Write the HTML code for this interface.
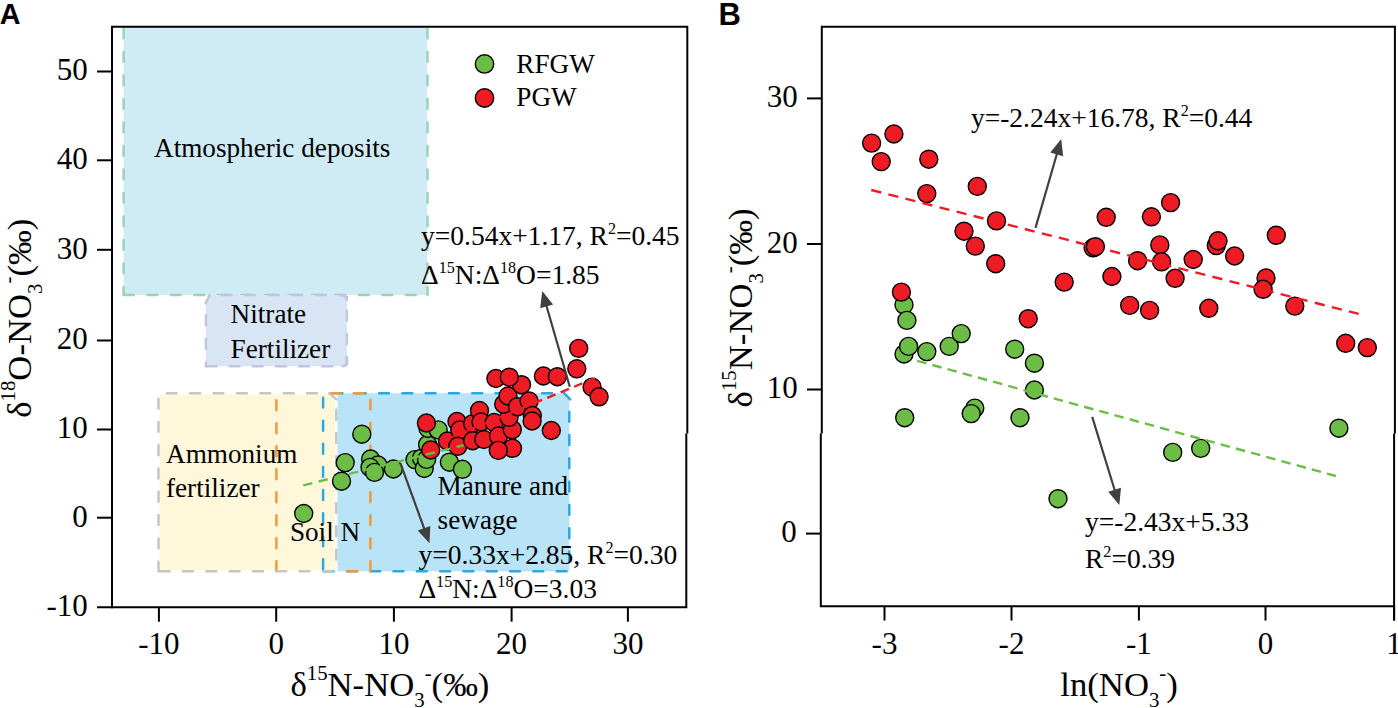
<!DOCTYPE html>
<html><head><meta charset="utf-8"><title>figure</title>
<style>html,body{margin:0;padding:0;background:#fff;overflow:hidden}svg{display:block}text{fill:#000}</style>
</head><body>
<svg width="1398" height="708" viewBox="0 0 1398 708">
<rect width="1398" height="708" fill="#fff"/>
<rect x="123.6" y="26" width="303.6" height="268.9" fill="#cfebf5"/>
<line x1="123.6" y1="26.8" x2="123.6" y2="294.9" stroke="#9cd3b3" stroke-width="2.5" stroke-dasharray="9.90 13.60" stroke-dashoffset="21.85" stroke-linecap="round"/>
<line x1="427.5" y1="26.8" x2="427.5" y2="294.9" stroke="#9cd3b3" stroke-width="2.5" stroke-dasharray="9.90 13.60" stroke-dashoffset="21.85" stroke-linecap="round"/>
<line x1="123.6" y1="294.9" x2="427.5" y2="294.9" stroke="#9cd3b3" stroke-width="2.5" stroke-dasharray="9.90 13.60" stroke-dashoffset="23.25" stroke-linecap="round"/>
<path d="M209.5,295.1 H344 Q346.9,295.1 346.9,298 V363.4 Q346.9,366.3 344,366.3 H205.9 V303.4 Z" fill="#d8e5f5"/>
<line x1="209.5" y1="295.1" x2="344.5" y2="295.1" stroke="#c6c3e0" stroke-width="2.5" stroke-dasharray="9.90 13.70" stroke-dashoffset="11.65" stroke-linecap="round"/>
<line x1="209.5" y1="295.4" x2="205.6" y2="303.4" stroke="#c6c3e0" stroke-width="2.5" stroke-linecap="round"/>
<line x1="205.9" y1="303.4" x2="205.9" y2="366.3" stroke="#c6c3e0" stroke-width="2.5" stroke-dasharray="9.90 13.70" stroke-dashoffset="11.65" stroke-linecap="round"/>
<line x1="205.9" y1="366.3" x2="344.5" y2="366.3" stroke="#c6c3e0" stroke-width="2.5" stroke-dasharray="9.90 13.25" stroke-dashoffset="22.50" stroke-linecap="round"/>
<line x1="346.9" y1="297" x2="346.9" y2="364.5" stroke="#c6c3e0" stroke-width="2.5" stroke-dasharray="9.90 13.25" stroke-dashoffset="9.50" stroke-linecap="round"/>
<path d="M340,295.1 Q346.9,295.1 346.9,300" fill="none" stroke="#c6c3e0" stroke-width="2.5" stroke-linecap="round"/>
<path d="M346.9,357 V362 Q346.9,366.3 342.5,366.3" fill="none" stroke="#c6c3e0" stroke-width="2.5" stroke-linecap="round"/>
<path d="M337.5,393.3 H564.5 L569.3,399 V571.3 H337.5 Z" fill="#b9e4f7"/>
<path d="M159.6,394.5 H328.6 L335.3,399.5 V570.5 H159.6 Z" fill="#fef7da"/>
<line x1="323.1" y1="393.3" x2="323.1" y2="571.3" stroke="#2aa8e0" stroke-width="2.5" stroke-dasharray="9.90 13.20" stroke-dashoffset="18.75" stroke-linecap="round"/>
<line x1="329" y1="393.2" x2="565" y2="393.2" stroke="#2aa8e0" stroke-width="2.5" stroke-dasharray="9.90 13.40" stroke-dashoffset="19.85" stroke-linecap="round"/>
<line x1="563.6" y1="392.6" x2="570.2" y2="399.4" stroke="#2aa8e0" stroke-width="2.5" stroke-linecap="round"/>
<line x1="569.3" y1="399" x2="569.3" y2="569" stroke="#2aa8e0" stroke-width="2.5" stroke-dasharray="9.90 13.40" stroke-dashoffset="10.55" stroke-linecap="round"/>
<line x1="323.1" y1="571.3" x2="569.3" y2="571.3" stroke="#2aa8e0" stroke-width="2.5" stroke-dasharray="9.90 13.40" stroke-dashoffset="22.75" stroke-linecap="round"/>
<line x1="276.4" y1="393.3" x2="276.4" y2="571.3" stroke="#f4983a" stroke-width="2.5" stroke-dasharray="9.90 13.10" stroke-dashoffset="16.05" stroke-linecap="round"/>
<line x1="370.4" y1="393.3" x2="370.4" y2="571.3" stroke="#f4983a" stroke-width="2.5" stroke-dasharray="9.90 13.20" stroke-dashoffset="16.75" stroke-linecap="round"/>
<line x1="328.5" y1="393.3" x2="370.4" y2="393.3" stroke="#f4983a" stroke-width="2.5" stroke-dasharray="9.90 13.10" stroke-dashoffset="20.75" stroke-linecap="round"/>
<line x1="337" y1="571.3" x2="370.4" y2="571.3" stroke="#f4983a" stroke-width="2.5" stroke-dasharray="9.90 13.40" stroke-dashoffset="12.85" stroke-linecap="round"/>
<line x1="158.5" y1="393.3" x2="329" y2="393.3" stroke="#c5c5c5" stroke-width="2.5" stroke-dasharray="9.90 13.50" stroke-dashoffset="15.15" stroke-linecap="round"/>
<line x1="329.2" y1="393.4" x2="336.4" y2="399.2" stroke="#c5c5c5" stroke-width="2.5" stroke-linecap="round"/>
<line x1="158.5" y1="393.3" x2="158.5" y2="571.3" stroke="#c5c5c5" stroke-width="2.5" stroke-dasharray="9.90 13.40" stroke-dashoffset="17.95" stroke-linecap="round"/>
<line x1="158.5" y1="571.3" x2="336.3" y2="571.3" stroke="#c5c5c5" stroke-width="2.5" stroke-dasharray="9.90 13.40" stroke-dashoffset="22.05" stroke-linecap="round"/>
<line x1="336.3" y1="399" x2="336.3" y2="571.3" stroke="#c5c5c5" stroke-width="2.5" stroke-dasharray="9.90 13.40" stroke-dashoffset="12.55" stroke-linecap="round"/>
<path d="M112,608.3 V26.8 H687.3 V433.6" fill="none" stroke="#000" stroke-width="2"/>
<path d="M686.3,433.4 V607.3 H97" fill="none" stroke="#000" stroke-width="2"/>
<line x1="97" y1="71.5" x2="112" y2="71.5" stroke="#000" stroke-width="2" />
<text x="87.8" y="80.3" font-size="31" text-anchor="end" font-family='"Liberation Serif", serif' >50</text>
<line x1="97" y1="160.3" x2="112" y2="160.3" stroke="#000" stroke-width="2" />
<text x="87.8" y="169.10000000000002" font-size="31" text-anchor="end" font-family='"Liberation Serif", serif' >40</text>
<line x1="97" y1="249.8" x2="112" y2="249.8" stroke="#000" stroke-width="2" />
<text x="87.8" y="258.6" font-size="31" text-anchor="end" font-family='"Liberation Serif", serif' >30</text>
<line x1="97" y1="340.5" x2="112" y2="340.5" stroke="#000" stroke-width="2" />
<text x="87.8" y="349.3" font-size="31" text-anchor="end" font-family='"Liberation Serif", serif' >20</text>
<line x1="97" y1="429.5" x2="112" y2="429.5" stroke="#000" stroke-width="2" />
<text x="87.8" y="438.3" font-size="31" text-anchor="end" font-family='"Liberation Serif", serif' >10</text>
<line x1="97" y1="517.7" x2="112" y2="517.7" stroke="#000" stroke-width="2" />
<text x="87.8" y="526.5" font-size="31" text-anchor="end" font-family='"Liberation Serif", serif' >0</text>
<text x="87.8" y="616.0999999999999" font-size="31" text-anchor="end" font-family='"Liberation Serif", serif' >-10</text>
<line x1="158.9" y1="607.3" x2="158.9" y2="621.7" stroke="#000" stroke-width="2" />
<text x="158.9" y="654.3" font-size="31" text-anchor="middle" font-family='"Liberation Serif", serif' >-10</text>
<line x1="276.2" y1="607.3" x2="276.2" y2="621.7" stroke="#000" stroke-width="2" />
<text x="276.2" y="654.3" font-size="31" text-anchor="middle" font-family='"Liberation Serif", serif' >0</text>
<line x1="393.9" y1="607.3" x2="393.9" y2="621.7" stroke="#000" stroke-width="2" />
<text x="393.9" y="654.3" font-size="31" text-anchor="middle" font-family='"Liberation Serif", serif' >10</text>
<line x1="511.6" y1="607.3" x2="511.6" y2="621.7" stroke="#000" stroke-width="2" />
<text x="511.6" y="654.3" font-size="31" text-anchor="middle" font-family='"Liberation Serif", serif' >20</text>
<line x1="627.9" y1="607.3" x2="627.9" y2="621.7" stroke="#000" stroke-width="2" />
<text x="627.9" y="654.3" font-size="31" text-anchor="middle" font-family='"Liberation Serif", serif' >30</text>
<text x="154.0" y="157.1" font-size="27.2" text-anchor="start" font-family='"Liberation Serif", serif' >Atmospheric deposits</text>
<text x="230.6" y="323.1" font-size="27.2" text-anchor="start" font-family='"Liberation Serif", serif' >Nitrate</text>
<text x="230.6" y="357.7" font-size="27.2" text-anchor="start" font-family='"Liberation Serif", serif' >Fertilizer</text>
<text x="166" y="463.1" font-size="27.2" text-anchor="start" font-family='"Liberation Serif", serif' >Ammonium</text>
<text x="166" y="497" font-size="27.2" text-anchor="start" font-family='"Liberation Serif", serif' >fertilizer</text>
<text x="289.9" y="541.1" font-size="27.2" text-anchor="start" font-family='"Liberation Serif", serif' >Soil N</text>
<text x="437.6" y="495.1" font-size="27.2" text-anchor="start" font-family='"Liberation Serif", serif' >Manure and</text>
<text x="437.6" y="529.2" font-size="27.2" text-anchor="start" font-family='"Liberation Serif", serif' >sewage</text>
<circle cx="303.7" cy="513.5" r="9.0" fill="#6bbd45" stroke="#000" stroke-width="1.4"/>
<circle cx="345.2" cy="462.6" r="9.0" fill="#6bbd45" stroke="#000" stroke-width="1.4"/>
<circle cx="341.5" cy="481.2" r="9.0" fill="#6bbd45" stroke="#000" stroke-width="1.4"/>
<circle cx="361.8" cy="434.2" r="9.0" fill="#6bbd45" stroke="#000" stroke-width="1.4"/>
<circle cx="370.6" cy="459.0" r="9.0" fill="#6bbd45" stroke="#000" stroke-width="1.4"/>
<circle cx="378.0" cy="465.0" r="9.0" fill="#6bbd45" stroke="#000" stroke-width="1.4"/>
<circle cx="370.0" cy="467.4" r="9.0" fill="#6bbd45" stroke="#000" stroke-width="1.4"/>
<circle cx="374.5" cy="472.4" r="9.0" fill="#6bbd45" stroke="#000" stroke-width="1.4"/>
<circle cx="393.4" cy="469.0" r="9.0" fill="#6bbd45" stroke="#000" stroke-width="1.4"/>
<circle cx="415.0" cy="459.6" r="9.0" fill="#6bbd45" stroke="#000" stroke-width="1.4"/>
<circle cx="421.5" cy="458.2" r="9.0" fill="#6bbd45" stroke="#000" stroke-width="1.4"/>
<circle cx="424.2" cy="468.5" r="9.0" fill="#6bbd45" stroke="#000" stroke-width="1.4"/>
<circle cx="426.6" cy="459.4" r="9.0" fill="#6bbd45" stroke="#000" stroke-width="1.4"/>
<circle cx="427.6" cy="444.5" r="9.0" fill="#6bbd45" stroke="#000" stroke-width="1.4"/>
<circle cx="428.0" cy="428.5" r="9.0" fill="#6bbd45" stroke="#000" stroke-width="1.4"/>
<circle cx="438.2" cy="429.9" r="9.0" fill="#6bbd45" stroke="#000" stroke-width="1.4"/>
<circle cx="449.4" cy="462.2" r="9.0" fill="#6bbd45" stroke="#000" stroke-width="1.4"/>
<circle cx="462.4" cy="469.3" r="9.0" fill="#6bbd45" stroke="#000" stroke-width="1.4"/>
<circle cx="426.4" cy="423.0" r="9.0" fill="#ed1c24" stroke="#000" stroke-width="1.4"/>
<circle cx="430.7" cy="450.0" r="9.0" fill="#ed1c24" stroke="#000" stroke-width="1.4"/>
<circle cx="447.5" cy="441.0" r="9.0" fill="#ed1c24" stroke="#000" stroke-width="1.4"/>
<circle cx="457.0" cy="421.5" r="9.0" fill="#ed1c24" stroke="#000" stroke-width="1.4"/>
<circle cx="459.8" cy="430.0" r="9.0" fill="#ed1c24" stroke="#000" stroke-width="1.4"/>
<circle cx="457.8" cy="446.3" r="9.0" fill="#ed1c24" stroke="#000" stroke-width="1.4"/>
<circle cx="472.7" cy="423.7" r="9.0" fill="#ed1c24" stroke="#000" stroke-width="1.4"/>
<circle cx="472.7" cy="440.7" r="9.0" fill="#ed1c24" stroke="#000" stroke-width="1.4"/>
<circle cx="483.8" cy="439.5" r="9.0" fill="#ed1c24" stroke="#000" stroke-width="1.4"/>
<circle cx="479.5" cy="410.5" r="9.0" fill="#ed1c24" stroke="#000" stroke-width="1.4"/>
<circle cx="481.0" cy="422.0" r="9.0" fill="#ed1c24" stroke="#000" stroke-width="1.4"/>
<circle cx="494.1" cy="422.5" r="9.0" fill="#ed1c24" stroke="#000" stroke-width="1.4"/>
<circle cx="498.5" cy="436.0" r="9.0" fill="#ed1c24" stroke="#000" stroke-width="1.4"/>
<circle cx="512.5" cy="448.3" r="9.0" fill="#ed1c24" stroke="#000" stroke-width="1.4"/>
<circle cx="498.3" cy="450.4" r="9.0" fill="#ed1c24" stroke="#000" stroke-width="1.4"/>
<circle cx="512.3" cy="429.7" r="9.0" fill="#ed1c24" stroke="#000" stroke-width="1.4"/>
<circle cx="509.0" cy="417.3" r="9.0" fill="#ed1c24" stroke="#000" stroke-width="1.4"/>
<circle cx="503.7" cy="404.1" r="9.0" fill="#ed1c24" stroke="#000" stroke-width="1.4"/>
<circle cx="508.0" cy="396.0" r="9.0" fill="#ed1c24" stroke="#000" stroke-width="1.4"/>
<circle cx="517.5" cy="406.7" r="9.0" fill="#ed1c24" stroke="#000" stroke-width="1.4"/>
<circle cx="529.1" cy="401.0" r="9.0" fill="#ed1c24" stroke="#000" stroke-width="1.4"/>
<circle cx="532.3" cy="415.5" r="9.0" fill="#ed1c24" stroke="#000" stroke-width="1.4"/>
<circle cx="532.1" cy="421.0" r="9.0" fill="#ed1c24" stroke="#000" stroke-width="1.4"/>
<circle cx="495.9" cy="378.5" r="9.0" fill="#ed1c24" stroke="#000" stroke-width="1.4"/>
<circle cx="521.5" cy="384.7" r="9.0" fill="#ed1c24" stroke="#000" stroke-width="1.4"/>
<circle cx="509.3" cy="377.2" r="9.0" fill="#ed1c24" stroke="#000" stroke-width="1.4"/>
<circle cx="543.4" cy="376.0" r="9.0" fill="#ed1c24" stroke="#000" stroke-width="1.4"/>
<circle cx="557.4" cy="376.7" r="9.0" fill="#ed1c24" stroke="#000" stroke-width="1.4"/>
<circle cx="578.7" cy="348.4" r="9.0" fill="#ed1c24" stroke="#000" stroke-width="1.4"/>
<circle cx="576.8" cy="368.8" r="9.0" fill="#ed1c24" stroke="#000" stroke-width="1.4"/>
<circle cx="592.1" cy="387.2" r="9.0" fill="#ed1c24" stroke="#000" stroke-width="1.4"/>
<circle cx="599.1" cy="396.8" r="9.0" fill="#ed1c24" stroke="#000" stroke-width="1.4"/>
<circle cx="551.3" cy="430.5" r="9.0" fill="#ed1c24" stroke="#000" stroke-width="1.4"/>
<line x1="303.3" y1="485.3746875" x2="463.50" y2="445.22" stroke="#6bbd45" stroke-width="2.4" stroke-dasharray="9.3 6.5" stroke-dashoffset="0.00"/>
<line x1="426" y1="447.56312" x2="595.00" y2="378.14" stroke="#ed1c24" stroke-width="2.4" stroke-dasharray="9.0 5.5" stroke-dashoffset="13.97"/>
<line x1="400.5" y1="463.4" x2="424.7182450518007" y2="530.041929487369" stroke="#404040" stroke-width="2.2" />
<polygon points="429.5,543.2 417.7,530.5 430.3,525.9" fill="#404040"/>
<line x1="569.8" y1="386.8" x2="546.0757614026523" y2="304.452823999061" stroke="#404040" stroke-width="2.2" />
<polygon points="542.2,291.0 553.1,304.5 540.2,308.2" fill="#404040"/>
<text x="421" y="245.4" font-size="27.5" text-anchor="start" font-family='"Liberation Serif", serif' ><tspan>y=0.54x+1.17, R</tspan><tspan font-size="16.1" baseline-shift="11.3">2</tspan><tspan>=0.45</tspan></text>
<text x="421" y="284.1" font-size="27.5" text-anchor="start" font-family='"Liberation Serif", serif' ><tspan>&#916;</tspan><tspan font-size="16.1" baseline-shift="11.3">15</tspan><tspan>N:&#916;</tspan><tspan font-size="16.1" baseline-shift="11.3">18</tspan><tspan>O=1.85</tspan></text>
<text x="418.6" y="564" font-size="27.5" text-anchor="start" font-family='"Liberation Serif", serif' ><tspan>y=0.33x+2.85, R</tspan><tspan font-size="16.1" baseline-shift="11.3">2</tspan><tspan>=0.30</tspan></text>
<text x="418.4" y="597.5" font-size="27.5" text-anchor="start" font-family='"Liberation Serif", serif' ><tspan>&#916;</tspan><tspan font-size="16.1" baseline-shift="11.3">15</tspan><tspan>N:&#916;</tspan><tspan font-size="16.1" baseline-shift="11.3">18</tspan><tspan>O=3.03</tspan></text>
<circle cx="484.5" cy="63.9" r="9.2" fill="#6bbd45" stroke="#000" stroke-width="1.4"/>
<circle cx="484.5" cy="98.0" r="9.2" fill="#ed1c24" stroke="#000" stroke-width="1.4"/>
<text x="516.3" y="72.6" font-size="27.2" text-anchor="start" font-family='"Liberation Serif", serif' >RFGW</text>
<text x="516.3" y="106.4" font-size="27.2" text-anchor="start" font-family='"Liberation Serif", serif' >PGW</text>
<text x="290.4" y="696.2" font-size="34.7" text-anchor="start" font-family='"Liberation Serif", serif' ><tspan>&#948;</tspan><tspan font-size="20.8" baseline-shift="16.3">15</tspan><tspan>N-NO</tspan><tspan font-size="20.8" baseline-shift="-10.8">3</tspan><tspan font-size="20.8" baseline-shift="16.3">-</tspan><tspan>(&#8240;)</tspan></text>
<text x="0" y="0" font-size="34.7" text-anchor="start" font-family='"Liberation Serif", serif' transform="translate(31.4,417.8) rotate(-90)"><tspan>&#948;</tspan><tspan font-size="20.8" baseline-shift="16.3">18</tspan><tspan>O-NO</tspan><tspan font-size="20.8" baseline-shift="-10.8">3</tspan><tspan font-size="20.8" baseline-shift="16.3">-</tspan><tspan>(&#8240;)</tspan></text>
<text x="-0.3" y="23.7" font-size="28.8" text-anchor="start" font-family='"Liberation Sans", sans-serif' font-weight="bold">A</text>
<text x="718.5" y="24.5" font-size="31" text-anchor="start" font-family='"Liberation Sans", sans-serif' font-weight="bold">B</text>
<path d="M821.8,433.6 V26.7 H1394.9 V433.6" fill="none" stroke="#000" stroke-width="2"/>
<path d="M820.8,433.4 V606.3 H1394.1 V433.4" fill="none" stroke="#000" stroke-width="2"/>
<line x1="1394.1" y1="606" x2="1394.1" y2="620.5" stroke="#000" stroke-width="2" />
<line x1="807" y1="98.4" x2="821.8" y2="98.4" stroke="#000" stroke-width="2" />
<text x="797.7" y="107.2" font-size="31" text-anchor="end" font-family='"Liberation Serif", serif' >30</text>
<line x1="807" y1="244" x2="821.8" y2="244" stroke="#000" stroke-width="2" />
<text x="797.7" y="252.8" font-size="31" text-anchor="end" font-family='"Liberation Serif", serif' >20</text>
<line x1="807" y1="389.5" x2="821.8" y2="389.5" stroke="#000" stroke-width="2" />
<text x="797.7" y="398.3" font-size="31" text-anchor="end" font-family='"Liberation Serif", serif' >10</text>
<line x1="806" y1="533.6" x2="820.8" y2="533.6" stroke="#000" stroke-width="2" />
<text x="796.7" y="542.4" font-size="31" text-anchor="end" font-family='"Liberation Serif", serif' >0</text>
<line x1="884.5" y1="606.3" x2="884.5" y2="620.5" stroke="#000" stroke-width="2" />
<text x="884.5" y="653.5" font-size="31" text-anchor="middle" font-family='"Liberation Serif", serif' >-3</text>
<line x1="1011.5" y1="606.3" x2="1011.5" y2="620.5" stroke="#000" stroke-width="2" />
<text x="1011.5" y="653.5" font-size="31" text-anchor="middle" font-family='"Liberation Serif", serif' >-2</text>
<line x1="1138.9" y1="606.3" x2="1138.9" y2="620.5" stroke="#000" stroke-width="2" />
<text x="1138.9" y="653.5" font-size="31" text-anchor="middle" font-family='"Liberation Serif", serif' >-1</text>
<line x1="1265.5" y1="606.3" x2="1265.5" y2="620.5" stroke="#000" stroke-width="2" />
<text x="1265.5" y="653.5" font-size="31" text-anchor="middle" font-family='"Liberation Serif", serif' >0</text>
<line x1="1394.1" y1="606.3" x2="1394.1" y2="620.5" stroke="#000" stroke-width="2" />
<text x="1394.1" y="653.5" font-size="31" text-anchor="middle" font-family='"Liberation Serif", serif' >1</text>
<circle cx="904.0" cy="304.8" r="9.0" fill="#6bbd45" stroke="#000" stroke-width="1.4"/>
<circle cx="906.9" cy="320.4" r="9.0" fill="#6bbd45" stroke="#000" stroke-width="1.4"/>
<circle cx="904.0" cy="354.0" r="9.0" fill="#6bbd45" stroke="#000" stroke-width="1.4"/>
<circle cx="908.6" cy="346.4" r="9.0" fill="#6bbd45" stroke="#000" stroke-width="1.4"/>
<circle cx="926.8" cy="351.6" r="9.0" fill="#6bbd45" stroke="#000" stroke-width="1.4"/>
<circle cx="949.2" cy="346.4" r="9.0" fill="#6bbd45" stroke="#000" stroke-width="1.4"/>
<circle cx="961.2" cy="333.6" r="9.0" fill="#6bbd45" stroke="#000" stroke-width="1.4"/>
<circle cx="1014.7" cy="349.2" r="9.0" fill="#6bbd45" stroke="#000" stroke-width="1.4"/>
<circle cx="1034.4" cy="363.2" r="9.0" fill="#6bbd45" stroke="#000" stroke-width="1.4"/>
<circle cx="1034.4" cy="390.0" r="9.0" fill="#6bbd45" stroke="#000" stroke-width="1.4"/>
<circle cx="904.7" cy="417.7" r="9.0" fill="#6bbd45" stroke="#000" stroke-width="1.4"/>
<circle cx="974.8" cy="408.1" r="9.0" fill="#6bbd45" stroke="#000" stroke-width="1.4"/>
<circle cx="971.2" cy="413.6" r="9.0" fill="#6bbd45" stroke="#000" stroke-width="1.4"/>
<circle cx="1020.0" cy="417.7" r="9.0" fill="#6bbd45" stroke="#000" stroke-width="1.4"/>
<circle cx="1172.7" cy="452.4" r="9.0" fill="#6bbd45" stroke="#000" stroke-width="1.4"/>
<circle cx="1200.7" cy="448.4" r="9.0" fill="#6bbd45" stroke="#000" stroke-width="1.4"/>
<circle cx="1338.9" cy="428.2" r="9.0" fill="#6bbd45" stroke="#000" stroke-width="1.4"/>
<circle cx="1058.0" cy="498.7" r="9.0" fill="#6bbd45" stroke="#000" stroke-width="1.4"/>
<circle cx="871.6" cy="143.1" r="9.0" fill="#ed1c24" stroke="#000" stroke-width="1.4"/>
<circle cx="893.9" cy="134.0" r="9.0" fill="#ed1c24" stroke="#000" stroke-width="1.4"/>
<circle cx="881.2" cy="161.6" r="9.0" fill="#ed1c24" stroke="#000" stroke-width="1.4"/>
<circle cx="928.8" cy="159.2" r="9.0" fill="#ed1c24" stroke="#000" stroke-width="1.4"/>
<circle cx="926.8" cy="193.6" r="9.0" fill="#ed1c24" stroke="#000" stroke-width="1.4"/>
<circle cx="977.3" cy="186.4" r="9.0" fill="#ed1c24" stroke="#000" stroke-width="1.4"/>
<circle cx="996.5" cy="220.9" r="9.0" fill="#ed1c24" stroke="#000" stroke-width="1.4"/>
<circle cx="964.0" cy="231.2" r="9.0" fill="#ed1c24" stroke="#000" stroke-width="1.4"/>
<circle cx="975.3" cy="246.1" r="9.0" fill="#ed1c24" stroke="#000" stroke-width="1.4"/>
<circle cx="995.7" cy="263.7" r="9.0" fill="#ed1c24" stroke="#000" stroke-width="1.4"/>
<circle cx="901.4" cy="292.1" r="9.0" fill="#ed1c24" stroke="#000" stroke-width="1.4"/>
<circle cx="1028.2" cy="318.7" r="9.0" fill="#ed1c24" stroke="#000" stroke-width="1.4"/>
<circle cx="1106.2" cy="217.3" r="9.0" fill="#ed1c24" stroke="#000" stroke-width="1.4"/>
<circle cx="1151.4" cy="216.8" r="9.0" fill="#ed1c24" stroke="#000" stroke-width="1.4"/>
<circle cx="1170.6" cy="202.6" r="9.0" fill="#ed1c24" stroke="#000" stroke-width="1.4"/>
<circle cx="1093.1" cy="247.8" r="9.0" fill="#ed1c24" stroke="#000" stroke-width="1.4"/>
<circle cx="1095.4" cy="246.7" r="9.0" fill="#ed1c24" stroke="#000" stroke-width="1.4"/>
<circle cx="1159.8" cy="244.9" r="9.0" fill="#ed1c24" stroke="#000" stroke-width="1.4"/>
<circle cx="1137.6" cy="260.7" r="9.0" fill="#ed1c24" stroke="#000" stroke-width="1.4"/>
<circle cx="1161.6" cy="261.8" r="9.0" fill="#ed1c24" stroke="#000" stroke-width="1.4"/>
<circle cx="1193.2" cy="259.5" r="9.0" fill="#ed1c24" stroke="#000" stroke-width="1.4"/>
<circle cx="1216.3" cy="245.6" r="9.0" fill="#ed1c24" stroke="#000" stroke-width="1.4"/>
<circle cx="1218.0" cy="240.8" r="9.0" fill="#ed1c24" stroke="#000" stroke-width="1.4"/>
<circle cx="1234.6" cy="256.0" r="9.0" fill="#ed1c24" stroke="#000" stroke-width="1.4"/>
<circle cx="1064.2" cy="282.1" r="9.0" fill="#ed1c24" stroke="#000" stroke-width="1.4"/>
<circle cx="1111.9" cy="276.5" r="9.0" fill="#ed1c24" stroke="#000" stroke-width="1.4"/>
<circle cx="1175.1" cy="278.3" r="9.0" fill="#ed1c24" stroke="#000" stroke-width="1.4"/>
<circle cx="1129.7" cy="305.4" r="9.0" fill="#ed1c24" stroke="#000" stroke-width="1.4"/>
<circle cx="1149.6" cy="310.4" r="9.0" fill="#ed1c24" stroke="#000" stroke-width="1.4"/>
<circle cx="1208.8" cy="308.3" r="9.0" fill="#ed1c24" stroke="#000" stroke-width="1.4"/>
<circle cx="1276.3" cy="235.3" r="9.0" fill="#ed1c24" stroke="#000" stroke-width="1.4"/>
<circle cx="1266.0" cy="278.0" r="9.0" fill="#ed1c24" stroke="#000" stroke-width="1.4"/>
<circle cx="1263.1" cy="289.3" r="9.0" fill="#ed1c24" stroke="#000" stroke-width="1.4"/>
<circle cx="1294.8" cy="306.1" r="9.0" fill="#ed1c24" stroke="#000" stroke-width="1.4"/>
<circle cx="1345.7" cy="343.3" r="9.0" fill="#ed1c24" stroke="#000" stroke-width="1.4"/>
<circle cx="1367.3" cy="347.6" r="9.0" fill="#ed1c24" stroke="#000" stroke-width="1.4"/>
<line x1="871.3" y1="190.0" x2="1358.70" y2="313.90" stroke="#ed1c24" stroke-width="2.4" stroke-dasharray="10.2 7.4" stroke-dashoffset="0.00"/>
<line x1="917.2" y1="360.8" x2="1335.80" y2="476.00" stroke="#6bbd45" stroke-width="2.4" stroke-dasharray="9.5 6.24" stroke-dashoffset="0.00"/>
<line x1="1035.5" y1="227.9" x2="1057.3119625756813" y2="152.4492812070793" stroke="#404040" stroke-width="2.2" />
<polygon points="1061.2,139.0 1063.2,156.2 1050.3,152.5" fill="#404040"/>
<line x1="1092.2" y1="416.9" x2="1115.188129480904" y2="491.717454620507" stroke="#404040" stroke-width="2.2" />
<polygon points="1119.3,505.1 1108.2,491.8 1121.0,487.8" fill="#404040"/>
<text x="970.9" y="126.6" font-size="27.5" text-anchor="start" font-family='"Liberation Serif", serif' ><tspan>y=-2.24x+16.78, R</tspan><tspan font-size="16.1" baseline-shift="11.3">2</tspan><tspan>=0.44</tspan></text>
<text x="1085" y="531.3" font-size="27.5" text-anchor="start" font-family='"Liberation Serif", serif' ><tspan>y=-2.43x+5.33</tspan></text>
<text x="1085" y="568" font-size="27.5" text-anchor="start" font-family='"Liberation Serif", serif' ><tspan>R</tspan><tspan font-size="16.1" baseline-shift="11.3">2</tspan><tspan>=0.39</tspan></text>
<text x="1060.3" y="695.8" font-size="34.7" text-anchor="start" font-family='"Liberation Serif", serif' ><tspan>ln(NO</tspan><tspan font-size="20.8" baseline-shift="-10.8">3</tspan><tspan font-size="20.8" baseline-shift="16.3">-</tspan><tspan>)</tspan></text>
<text x="0" y="0" font-size="34.7" text-anchor="start" font-family='"Liberation Serif", serif' transform="translate(751.5,407.4) rotate(-90)"><tspan>&#948;</tspan><tspan font-size="20.8" baseline-shift="16.3">15</tspan><tspan>N-NO</tspan><tspan font-size="20.8" baseline-shift="-10.8">3</tspan><tspan font-size="20.8" baseline-shift="16.3">-</tspan><tspan>(&#8240;)</tspan></text>
</svg>
</body></html>
